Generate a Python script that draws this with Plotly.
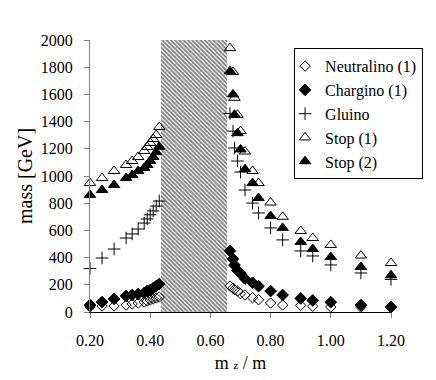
import plotly.graph_objects as go

# ── Data ────────────────────────────────────────────────────────────
MZ_RATIO = [0.20, 0.24, 0.28, 0.32, 0.34, 0.36, 0.38, 0.39, 0.40, 0.41, 0.42, 0.43,
            0.665, 0.675, 0.68, 0.69, 0.70, 0.715, 0.74, 0.76, 0.80, 0.84, 0.90, 0.94,
            1.00, 1.10, 1.20]
NEUTRALINO = [37, 44, 44, 51, 59, 66, 73, 81, 88, 96, 103, 110,
              191, 176, 165, 154, 135, 125, 105, 90, 66, 51, 49, 42, 37, 36, 33]
CHARGINO = [51, 73, 96, 118, 125, 132, 140, 154, 162, 176, 191, 206,
            450, 390, 345, 305, 285, 245, 215, 190, 154, 125, 100, 85, 72, 51, 37]
GLUINO = [320, 397, 463, 544, 574, 610, 654, 684, 715, 743, 779, 816,
          1460, 1330, 1206, 1110, 1029, 897, 801, 728, 618, 530, 449, 412, 346, 287, 240]
STOP1 = [948, 985, 1037, 1081, 1110, 1140, 1184, 1213, 1243, 1272, 1301, 1360,
         1940, 1765, 1575, 1450, 1330, 1180, 1037, 948, 805, 700, 596, 544, 493, 415, 360]
STOP2 = [860, 897, 934, 985, 1007, 1037, 1059, 1081, 1110, 1140, 1175, 1215,
         1770, 1600, 1450, 1315, 1195, 1050, 948, 838, 706, 618, 515, 463, 404, 331, 270]

# excluded (hatched) band in m_z/m
BAND_LO, BAND_HI, BAND_TOP = 0.435, 0.655, 2000

X_TICKS = [0.2, 0.4, 0.6, 0.8, 1.0, 1.2]
Y_TICKS = list(range(0, 2001, 200))

FONT = "Times New Roman, Liberation Serif, serif"

fig = go.Figure()

# hatched band
fig.add_trace(go.Bar(
    x=[(BAND_LO + BAND_HI) / 2], y=[BAND_TOP], width=[BAND_HI - BAND_LO],
    marker=dict(color="white", line=dict(width=0),
                pattern=dict(shape="\\", fgcolor="black", bgcolor="white",
                             size=3, solidity=0.6)),
    showlegend=False, hoverinfo="skip",
))

series = [
    ("Neutralino (1)", NEUTRALINO, "diamond-open", 8),
    ("Chargino (1)", CHARGINO, "diamond", 9),
    ("Gluino", GLUINO, "cross-thin-open", 9),
    ("Stop (1)", STOP1, "triangle-up-open", 10),
    ("Stop (2)", STOP2, "triangle-up", 10),
]
for name, vals, sym, size in series:
    fig.add_trace(go.Scatter(
        x=MZ_RATIO, y=vals, mode="markers", name=name, cliponaxis=False,
        marker=dict(symbol=sym, size=size, color="black",
                    line=dict(color="black", width=1)),
    ))

fig.update_layout(
    width=436, height=380,
    margin=dict(l=82, r=53, t=32, b=76),
    paper_bgcolor="white", plot_bgcolor="white",
    font=dict(family=FONT, size=16, color="black"),
    bargap=0,
    legend=dict(
        x=0.678, y=0.97, xanchor="left", yanchor="top",
        bordercolor="black", borderwidth=1, bgcolor="white",
        font=dict(family=FONT, size=16), tracegroupgap=0,
        indentation=-10,
    ),
    xaxis=dict(
        range=[0.2, 1.2], tickvals=X_TICKS, tickformat=".2f", automargin=False,
        showline=True, linecolor="black", linewidth=1,
        ticks="outside", ticklen=5, tickcolor="#808080",
        showgrid=False, zeroline=False, ticklabelstandoff=9,
        title=dict(text="m <span style='font-size:11px'>z</span> / m",
                   font=dict(size=18), standoff=8),
    ),
    yaxis=dict(
        range=[0, 2000], tickvals=Y_TICKS, automargin=False,
        showline=True, linecolor="#808080", linewidth=1,
        ticks="outside", ticklen=5, tickcolor="#808080",
        showgrid=False, zeroline=False, ticklabelstandoff=8,
        title=dict(text="mass [GeV]", font=dict(size=20), standoff=2),
    ),
)

fig.write_html("out.html")
